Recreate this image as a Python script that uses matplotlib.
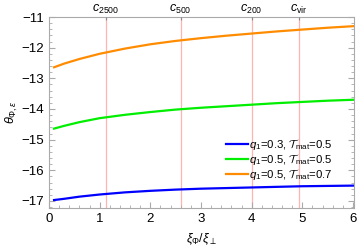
import numpy as np
import matplotlib
matplotlib.use("Agg")
import matplotlib.pyplot as plt

plt.rcParams['font.family'] = ['Liberation Sans', 'DejaVu Sans']
plt.rcParams['mathtext.fontset'] = 'custom'
plt.rcParams['mathtext.rm'] = 'Liberation Sans'
plt.rcParams['mathtext.it'] = 'Liberation Sans:italic'
plt.rcParams['mathtext.cal'] = 'cmsy10'

x = [0.1, 0.3, 0.6, 1.0, 1.5, 2.0, 2.5, 3.0, 3.5, 4.0, 4.5, 5.0, 5.5, 6.0]
orange = [-12.64, -12.52, -12.37, -12.20, -12.03, -11.89, -11.78, -11.69, -11.61,
          -11.54, -11.47, -11.41, -11.35, -11.30]
green = [-14.64, -14.55, -14.43, -14.30, -14.19, -14.10, -14.02, -13.96, -13.91,
         -13.86, -13.81, -13.77, -13.73, -13.70]
blue = [-16.97, -16.93, -16.86, -16.79, -16.72, -16.67, -16.63, -16.60, -16.58,
        -16.56, -16.54, -16.52, -16.51, -16.50]
labels = [r"$q_1$=0.3, $\mathcal{T}_{\rm mat}$=0.5",
          r"$q_1$=0.5, $\mathcal{T}_{\rm mat}$=0.5",
          r"$q_1$=0.5, $\mathcal{T}_{\rm mat}$=0.7"]
vlines = [1.12, 2.6, 4.0, 4.93]
vlabels = [r"$c_{2500}$", r"$c_{500}$", r"$c_{200}$", r"$c_{\rm vir}$"]

fig = plt.figure(figsize=(3.61, 2.52), dpi=100)
ax = fig.add_axes([49/361, 1-208/252, (354-49)/361, (208-17)/252])

for v in vlines:
    ax.axvline(v, color="#ffb4b4", lw=0.9, zorder=1)
ax.plot(x, blue, color="#0000ff", lw=1.6, label=labels[0])
ax.plot(x, green, color="#00ee00", lw=1.6, label=labels[1])
ax.plot(x, orange, color="#ff8c00", lw=1.6, label=labels[2])

ax.set_xlim(0, 6.02)
ax.set_ylim(-17.23, -11)
ax.set_xticks(range(0, 7))
ax.set_yticks(range(-17, -10))
ax.set_yticklabels([f"\u2212{abs(t)}" for t in range(-17, -10)])
ax.set_xticks(np.arange(0, 6.01, 0.2), minor=True)
ax.set_yticks(np.arange(-17.2, -10.99, 0.2), minor=True)
ax.tick_params(which="both", direction="in", color="#aaaaaa", labelsize=9.5, top=False, right=True)
ax.tick_params(which="major", length=4, width=0.8)
ax.tick_params(which="minor", length=2, width=0.6)
for s in ax.spines.values():
    s.set_color("#aaaaaa")
    s.set_linewidth(0.8)

ax2 = ax.twiny()
ax2.set_xlim(ax.get_xlim())
ax2.set_xticks(vlines)
ax2.set_xticklabels(vlabels)
ax2.tick_params(length=2, color="#888888", direction="in", labelsize=9, pad=1)
for s in ax2.spines.values():
    s.set_visible(False)

ax.set_xlabel(r"$\xi_\Phi/\xi_\perp$", fontsize=9, labelpad=5)
ax.set_ylabel(r"$\theta_{\Phi,\epsilon}$", fontsize=9, labelpad=1)

ax.legend(loc="upper left", bbox_to_anchor=(0.58, 0.37), fontsize=8.2, frameon=False,
          handlelength=1.9, handletextpad=0.15, labelspacing=0.0, borderaxespad=0,
          borderpad=0)

fig.savefig("out.png", dpi=100)
